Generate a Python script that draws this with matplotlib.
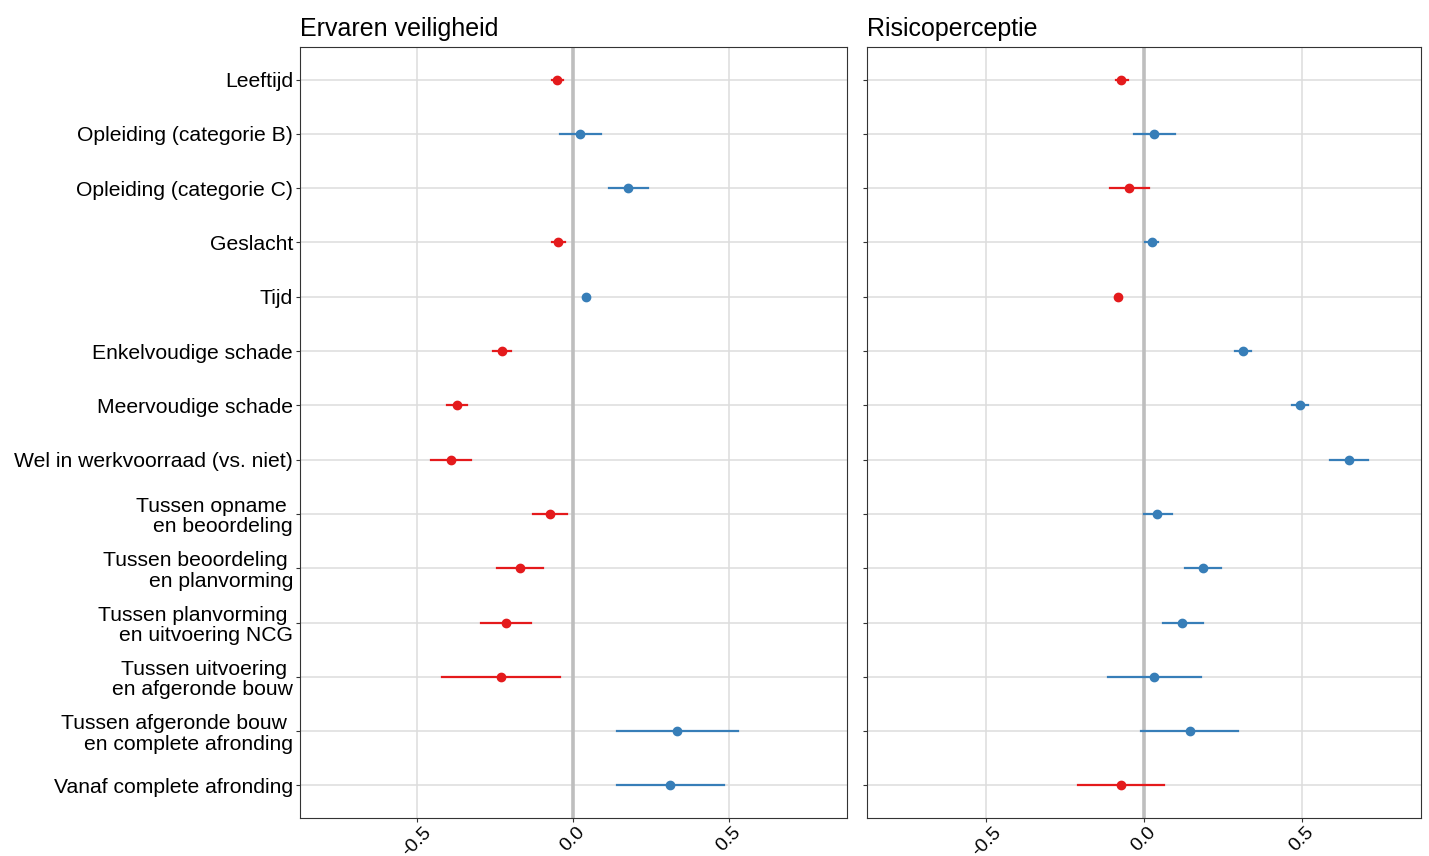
import matplotlib.pyplot as plt

plt.rcParams["font.family"] = ["Liberation Sans", "DejaVu Sans"]

labels = [
    "Leeftijd",
    "Opleiding (categorie B)",
    "Opleiding (categorie C)",
    "Geslacht",
    "Tijd",
    "Enkelvoudige schade",
    "Meervoudige schade",
    "Wel in werkvoorraad (vs. niet)",
    "Tussen opname \nen beoordeling",
    "Tussen beoordeling \nen planvorming",
    "Tussen planvorming \nen uitvoering NCG",
    "Tussen uitvoering \nen afgeronde bouw",
    "Tussen afgeronde bouw \nen complete afronding",
    "Vanaf complete afronding",
]

# Ervaren veiligheid
veil_est = [-0.050, 0.023, 0.176, -0.048, 0.043, -0.228, -0.372, -0.392,
            -0.073, -0.171, -0.214, -0.231, 0.332, 0.311]
veil_lo = [-0.068, -0.042, 0.115, -0.068, 0.036, -0.256, -0.404, -0.455,
           -0.128, -0.244, -0.294, -0.420, 0.140, 0.141]
veil_hi = [-0.031, 0.090, 0.239, -0.027, 0.050, -0.199, -0.341, -0.328,
           -0.018, -0.097, -0.134, -0.042, 0.528, 0.483]

# Risicoperceptie
risico_est = [-0.072, 0.033, -0.047, 0.024, -0.084, 0.314, 0.496, 0.651,
              0.041, 0.186, 0.121, 0.033, 0.145, -0.073]
risico_lo = [-0.089, -0.031, -0.107, 0.004, -0.090, 0.290, 0.469, 0.591,
             0.000, 0.129, 0.059, -0.113, -0.008, -0.208]
risico_hi = [-0.052, 0.098, 0.015, 0.045, -0.078, 0.338, 0.521, 0.711,
             0.088, 0.244, 0.186, 0.181, 0.299, 0.063]

panels = [
    ("Ervaren veiligheid", veil_est, veil_lo, veil_hi, (-0.875, 0.878)),
    ("Risicoperceptie", risico_est, risico_lo, risico_hi, (-0.879, 0.879)),
]

RED = "#E41A1C"
BLUE = "#377EB8"

fig = plt.figure(figsize=(14.29, 8.56), dpi=100)
W, H = 1429, 856
ax_left = fig.add_axes([300 / W, 1 - 818 / H, 547 / W, 771 / H])
ax_right = fig.add_axes([867 / W, 1 - 818 / H, 554 / W, 771 / H])

n = len(labels)
ypos = list(range(n))

for ax, (title, est, lo, hi, xlim) in zip([ax_left, ax_right], panels):
    for y in ypos:
        ax.axhline(y, color="#DDDDDD", linewidth=1.1, zorder=0)
    for xv in [-0.5, 0.5]:
        ax.axvline(xv, color="#DDDDDD", linewidth=1.1, zorder=0)
    ax.axvline(0, color="#BEBEBE", linewidth=2.6, zorder=1)

    # estimate with confidence interval, red when negative
    for y, e, l, h in zip(ypos, est, lo, hi):
        c = RED if e < 0 else BLUE
        ax.plot([l, h], [y, y], color=c, linewidth=1.6, zorder=2)
        ax.plot(e, y, "o", color=c, markersize=6, zorder=3)

    ax.set_xlim(*xlim)
    ax.set_ylim(n - 1 + 0.6, -0.6)
    ax.set_xticks([-0.5, 0.0, 0.5])
    ax.set_xticklabels(["-0.5", "0.0", "0.5"], rotation=45, fontsize=14)
    ax.set_yticks(ypos)
    ax.tick_params(axis="both", length=3, color="#333333", width=0.8, pad=2)
    ax.tick_params(axis="x", pad=1)
    ax.set_title(title, loc="left", fontsize=18, pad=8)
    for s in ax.spines.values():
        s.set_color("#333333")
        s.set_linewidth(0.8)

ax_left.set_yticklabels(labels, fontsize=15.2, linespacing=1.1)
ax_right.set_yticklabels([])

fig.savefig("out.png", dpi=100)
